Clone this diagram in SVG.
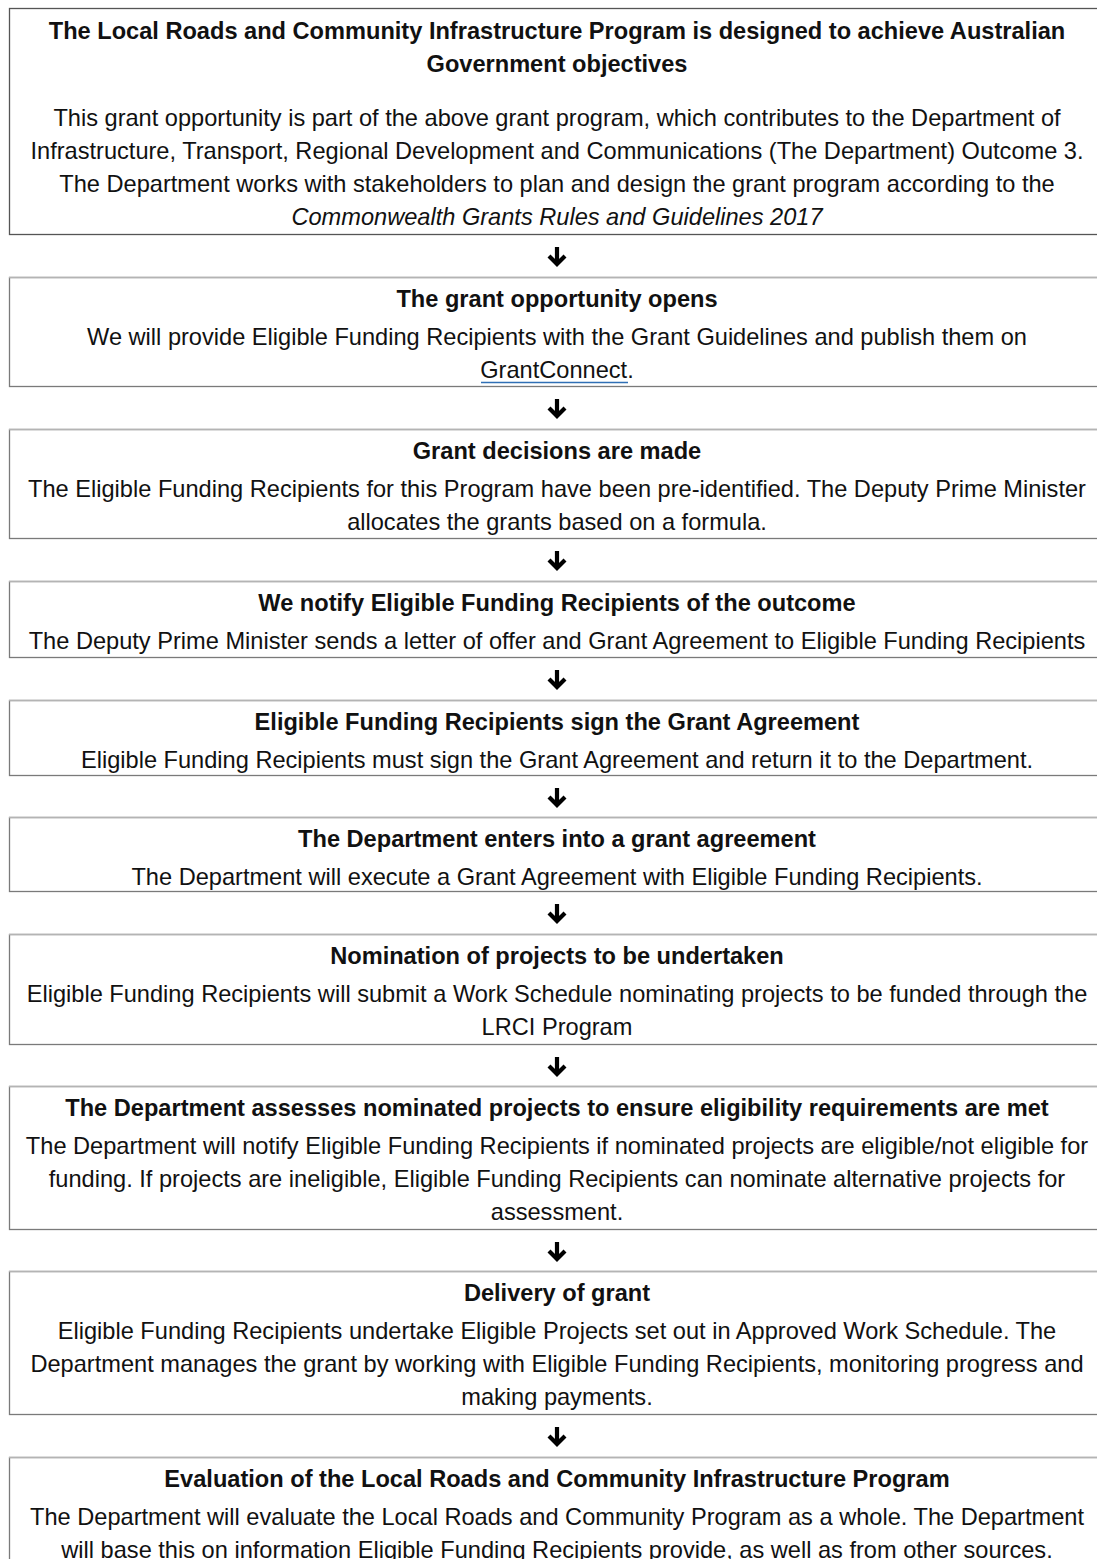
<svg xmlns="http://www.w3.org/2000/svg" width="1097" height="1559" viewBox="0 0 1097 1559">
<style>
.box{fill:#fff;stroke:#7a7a7a;stroke-width:1.3}
.top{stroke:#b4b4b4;stroke-width:1.5}
text{font-family:"Liberation Sans",Arial,sans-serif;font-size:23.6px;fill:#111;text-anchor:middle}
.t{font-weight:bold}
.i{font-style:italic}
.arr{fill:none;stroke:#000;stroke-width:4.2;stroke-linejoin:miter}
</style>
<defs>
<path id="arrow" d="M557 -9 V7 M549 0 L557 8 L565 0"/>
</defs>
<rect width="1097" height="1559" fill="#fff"/>
<g id="connectors">
<use href="#arrow" class="arr" y="256"/>
<use href="#arrow" class="arr" y="408"/>
<use href="#arrow" class="arr" y="560"/>
<use href="#arrow" class="arr" y="679"/>
<use href="#arrow" class="arr" y="797"/>
<use href="#arrow" class="arr" y="913"/>
<use href="#arrow" class="arr" y="1066"/>
<use href="#arrow" class="arr" y="1251"/>
<use href="#arrow" class="arr" y="1436"/>
</g>
<g id="n1">
<rect class="box" x="9.5" y="8.5" width="1100" height="226" style="stroke:#555"/>
<text class="t" x="557" y="39">The Local Roads and Community Infrastructure Program is designed to achieve Australian</text>
<text class="t" x="557" y="72">Government objectives</text>
<text x="557" y="126">This grant opportunity is part of the above grant program, which contributes to the Department of</text>
<text x="557" y="159">Infrastructure, Transport, Regional Development and Communications (The Department) Outcome 3.</text>
<text x="557" y="192">The Department works with stakeholders to plan and design the grant program according to the</text>
<text class="i" x="557" y="225">Commonwealth Grants Rules and Guidelines 2017</text>
</g>
<g id="n2">
<rect class="box" x="9.5" y="277.5" width="1100" height="109"/>
<line class="top" x1="9" y1="277.5" x2="1097" y2="277.5"/>
<text class="t" x="557" y="307">The grant opportunity opens</text>
<text x="557" y="345">We will provide Eligible Funding Recipients with the Grant Guidelines and publish them on</text>
<text x="557" y="378">GrantConnect.</text>
<line x1="481" y1="382.5" x2="628" y2="382.5" stroke="#2f6fb5" stroke-width="1.5"/>
</g>
<g id="n3">
<rect class="box" x="9.5" y="429.5" width="1100" height="109"/>
<line class="top" x1="9" y1="429.5" x2="1097" y2="429.5"/>
<text class="t" x="557" y="459">Grant decisions are made</text>
<text x="557" y="497">The Eligible Funding Recipients for this Program have been pre-identified. The Deputy Prime Minister</text>
<text x="557" y="530">allocates the grants based on a formula.</text>
</g>
<g id="n4">
<rect class="box" x="9.5" y="581.5" width="1100" height="76"/>
<line class="top" x1="9" y1="581.5" x2="1097" y2="581.5"/>
<text class="t" x="557" y="611">We notify Eligible Funding Recipients of the outcome</text>
<text x="557" y="649">The Deputy Prime Minister sends a letter of offer and Grant Agreement to Eligible Funding Recipients</text>
</g>
<g id="n5">
<rect class="box" x="9.5" y="700.5" width="1100" height="75"/>
<line class="top" x1="9" y1="700.5" x2="1097" y2="700.5"/>
<text class="t" x="557" y="730">Eligible Funding Recipients sign the Grant Agreement</text>
<text x="557" y="768">Eligible Funding Recipients must sign the Grant Agreement and return it to the Department.</text>
</g>
<g id="n6">
<rect class="box" x="9.5" y="817.5" width="1100" height="74"/>
<line class="top" x1="9" y1="817.5" x2="1097" y2="817.5"/>
<text class="t" x="557" y="847">The Department enters into a grant agreement</text>
<text x="557" y="885">The Department will execute a Grant Agreement with Eligible Funding Recipients.</text>
</g>
<g id="n7">
<rect class="box" x="9.5" y="934.5" width="1100" height="110"/>
<line class="top" x1="9" y1="934.5" x2="1097" y2="934.5"/>
<text class="t" x="557" y="964">Nomination of projects to be undertaken</text>
<text x="557" y="1002">Eligible Funding Recipients will submit a Work Schedule nominating projects to be funded through the</text>
<text x="557" y="1035">LRCI Program</text>
</g>
<g id="n8">
<rect class="box" x="9.5" y="1086.5" width="1100" height="143"/>
<line class="top" x1="9" y1="1086.5" x2="1097" y2="1086.5"/>
<text class="t" x="557" y="1116">The Department assesses nominated projects to ensure eligibility requirements are met</text>
<text x="557" y="1154">The Department will notify Eligible Funding Recipients if nominated projects are eligible/not eligible for</text>
<text x="557" y="1187">funding. If projects are ineligible, Eligible Funding Recipients can nominate alternative projects for</text>
<text x="557" y="1220">assessment.</text>
</g>
<g id="n9">
<rect class="box" x="9.5" y="1271.5" width="1100" height="143"/>
<line class="top" x1="9" y1="1271.5" x2="1097" y2="1271.5"/>
<text class="t" x="557" y="1301">Delivery of grant</text>
<text x="557" y="1339">Eligible Funding Recipients undertake Eligible Projects set out in Approved Work Schedule. The</text>
<text x="557" y="1372">Department manages the grant by working with Eligible Funding Recipients, monitoring progress and</text>
<text x="557" y="1405">making payments.</text>
</g>
<g id="n10">
<rect class="box" x="9.5" y="1457.5" width="1100" height="150"/>
<line class="top" x1="9" y1="1457.5" x2="1097" y2="1457.5"/>
<text class="t" x="557" y="1487">Evaluation of the Local Roads and Community Infrastructure Program</text>
<text x="557" y="1525">The Department will evaluate the Local Roads and Community Program as a whole. The Department</text>
<text x="557" y="1558">will base this on information Eligible Funding Recipients provide, as well as from other sources.</text>
</g>
</svg>
